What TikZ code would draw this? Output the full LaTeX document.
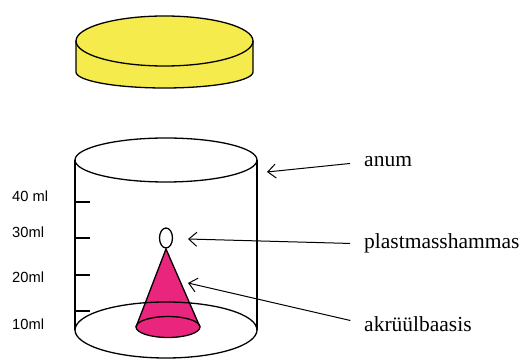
\documentclass[tikz,border=0pt]{standalone}
\usepackage{fontspec}
\usepackage{tikz}
\usetikzlibrary{arrows.meta}
\newfontfamily\scalefamily{Liberation Sans}
\newfontfamily\partfamily{Liberation Serif}
\definecolor{lidyellow}{HTML}{F6EB4C}
\definecolor{conepink}{HTML}{E9257D}

\begin{document}
\begin{tikzpicture}[
  x=1pt, y=1pt,
  outline/.style={draw=black, line width=1.3pt},
  pointer/.style={-{Straight Barb[length=8pt,width=14pt]}, line width=1pt, shorten <=14pt},
  scalelabel/.style={font={\scalefamily\fontsize{14.7}{17}\selectfont}, inner sep=0pt, anchor=base west},
  partlabel/.style={font={\partfamily\fontsize{21.5}{25}\selectfont}, inner sep=0pt, anchor=base west}
]
\useasboundingbox (0,0) rectangle (526,361);

% lid
\fill[lidyellow] (76,320) -- (76,289) arc[start angle=180, end angle=360, x radius=88.5, y radius=16]
  -- (253,320) arc[start angle=0, end angle=180, x radius=88.5, y radius=25] -- cycle;
\draw[outline] (76,320) -- (76,289) arc[start angle=180, end angle=360, x radius=88.5, y radius=16] -- (253,320);
\draw[outline] (164.5,320) ellipse [x radius=88.5, y radius=25];

% beaker with scale
\draw[outline] (166,201) ellipse [x radius=91, y radius=22];
\draw[outline] (75,201) -- (75,31) (257,201) -- (257,31);
\foreach \y in {159,123,86,50}
  \draw[outline] (75,\y) -- (90,\y);

\node[scalelabel] (ml40) at (12,159) {40 ml};
\node[scalelabel] (ml30) at (12,123) {30ml};
\node[scalelabel] (ml20) at (12,78) {20ml};
\node[scalelabel] (ml10) at (12,32) {10ml};

% cone and pin
\fill[conepink] (166,112) -- (136,34) arc[start angle=180, end angle=360, x radius=32, y radius=10.5] -- cycle;
\draw[outline] (136,34) -- (166,112) -- (200,34);
\draw[outline] (168,34) ellipse [x radius=32, y radius=10.5];
\draw[outline] (166,31) ellipse [x radius=91, y radius=28];
\filldraw[outline, fill=white] (166,123) ellipse [x radius=6.5, y radius=10];

% labels
\node[partlabel] (anum) at (364,194) {anum};
\node[partlabel] (hammas) at (364,112) {plastmasshammas};
\node[partlabel] (baas) at (364,30) {akrüülbaasis};

\coordinate (anumtip) at (267,189);
\coordinate (hammastip) at (188,122);
\coordinate (baastip) at (188,78);

\draw[pointer] (anum.west) -- (anumtip);
\draw[pointer] (hammas.west) -- (hammastip);
\draw[pointer] (baas.west) -- (baastip);
\end{tikzpicture}
\end{document}
